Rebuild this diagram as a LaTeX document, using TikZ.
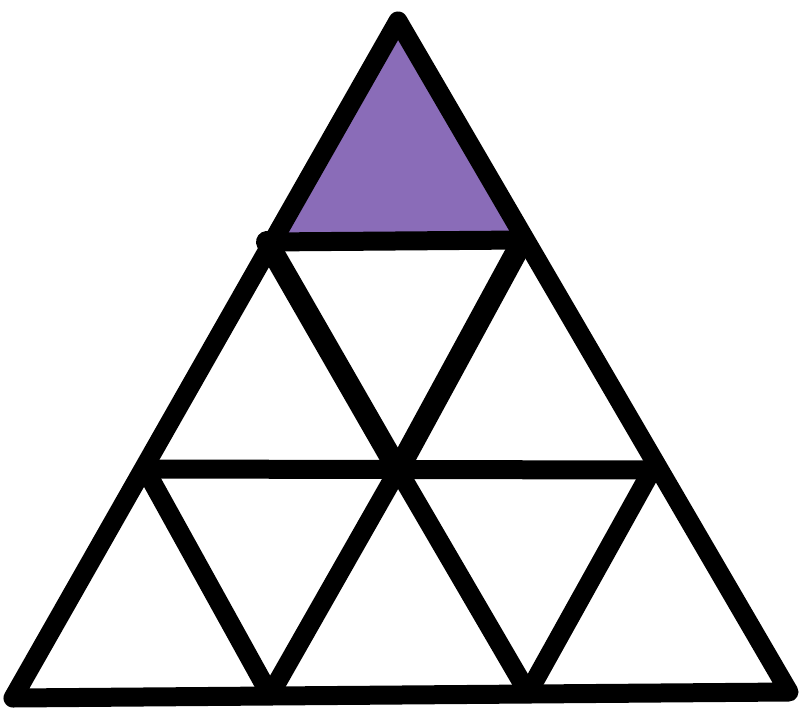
\documentclass[tikz,border=0pt]{standalone}
\definecolor{tri}{RGB}{138,108,184}
\begin{document}
\begin{tikzpicture}[x=1pt,y=-1pt,
  edge/.style={draw=black,line width=19pt,line cap=round,line join=round},
  thickedge/.style={edge,line width=22pt}]
\useasboundingbox (0,0) rectangle (800,717);
\coordinate (A) at (398,21);
\coordinate (BL) at (13,698);
\coordinate (BR) at (789,692);
\coordinate (P1) at (267,242);
\coordinate (P2) at (523,240);
\coordinate (P3) at (145,469);
\coordinate (P4) at (652,470);
\coordinate (C) at (398,470);
\coordinate (B1) at (270,695);
\coordinate (B2) at (528,693);
\fill[tri] (A) -- (P1) -- (P2) -- cycle;
\draw[edge] (P1) -- (P2);
\draw[edge] (P3) -- (P4);
\draw[thickedge] (P1) -- (C);
\draw[edge] (C) -- (B2);
\draw[thickedge] (P2) -- (C);
\draw[edge] (C) -- (B1);
\draw[edge] (P3) -- (B1);
\draw[edge] (P4) -- (B2);
\draw[edge] (A) -- (BL) -- (BR) -- cycle;
\end{tikzpicture}
\end{document}
